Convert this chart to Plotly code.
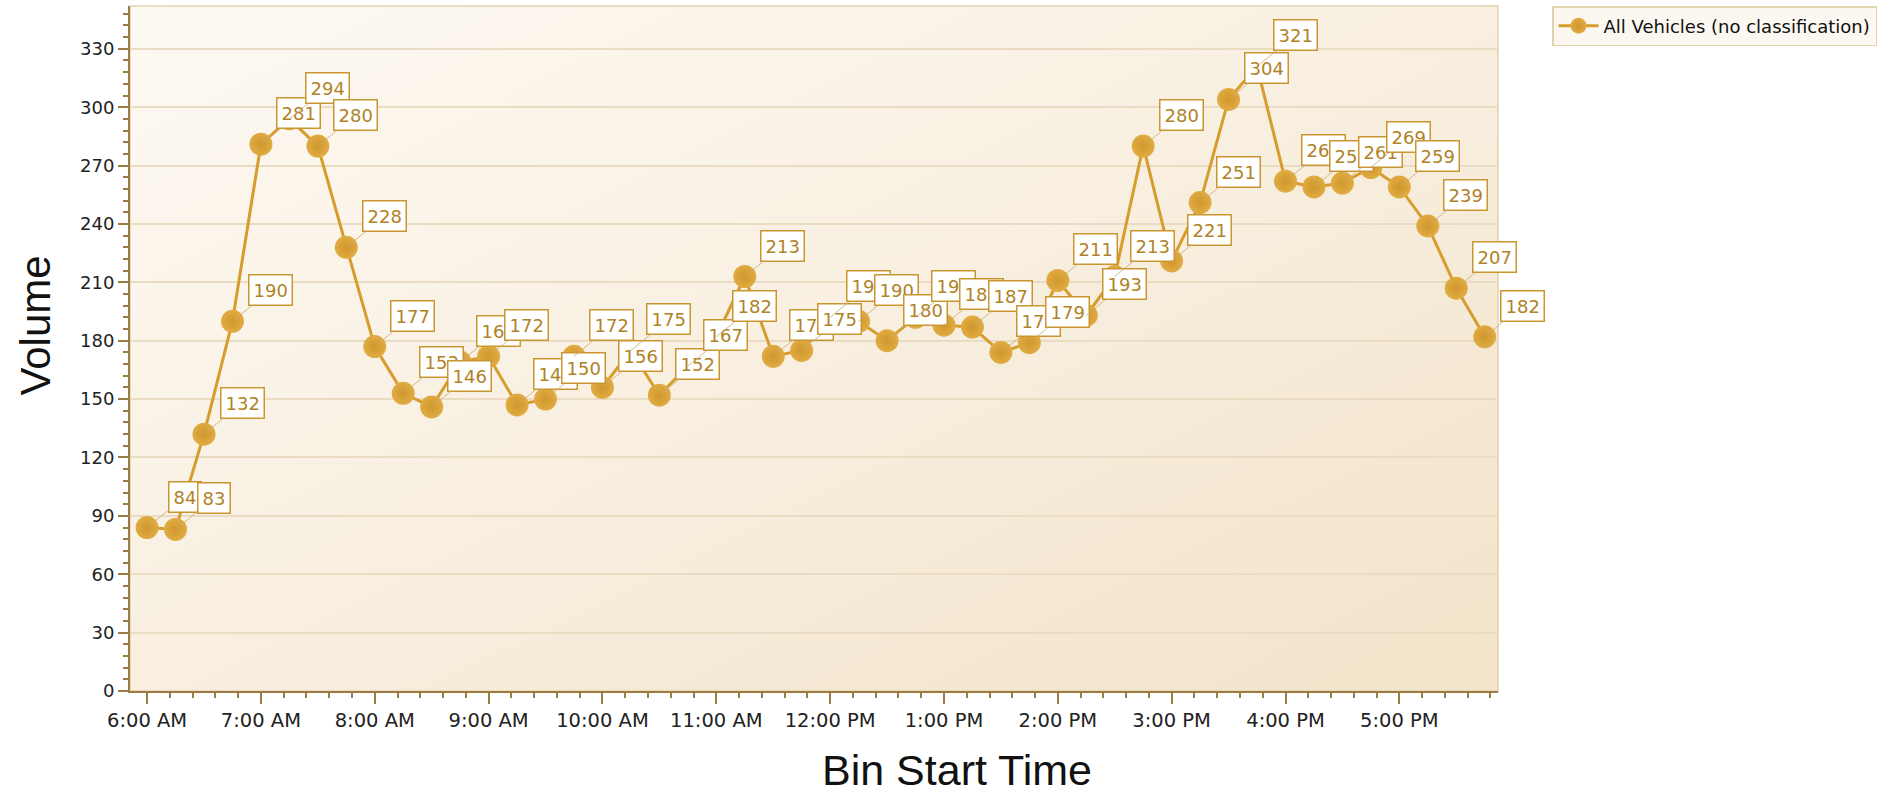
import base64
import pandas as pd
import plotly.graph_objects as go

# ---- data ----
start_time = "2000-01-01 06:00"
n_bins = 48
times = pd.date_range(start_time, periods=n_bins, freq="15min")
volume = [84, 83, 132, 190, 281, 294, 280, 228, 177, 153, 146, 169,
          172, 147, 150, 172, 156, 175, 152, 167, 182, 213, 172, 175,
          192, 190, 180, 192, 188, 187, 174, 179, 211, 193, 213, 280,
          221, 251, 304, 321, 262, 259, 261, 269, 259, 239, 207, 182]
series_name = "All Vehicles (no classification)"
y_title = "Volume"
x_title = "Bin Start Time"

# ---- styles ----
line_color = "#D69C2C"
label_text = "#B08226"
label_border = "#C99630"
axis_color = "#9C7B44"
grid_color = "#E9DCC2"

svg = ('<svg xmlns="http://www.w3.org/2000/svg" width="200" height="100" preserveAspectRatio="none">'
       '<defs><linearGradient id="g" x1="0" y1="0" x2="1" y2="1">'
       '<stop offset="0" stop-color="#FDF9F3"/><stop offset="0.5" stop-color="#F8EFE0"/>'
       '<stop offset="1" stop-color="#F2E3C9"/></linearGradient></defs>'
       '<rect width="200" height="100" fill="url(#g)"/></svg>')
bg_src = "data:image/svg+xml;base64," + base64.b64encode(svg.encode()).decode()

fig = go.Figure()
fig.add_trace(go.Scatter(
    x=times, y=volume, mode="lines+markers", name=series_name,
    line=dict(color=line_color, width=3),
    marker=dict(size=23, color="#E0AC44", line=dict(width=0),
                gradient=dict(type="radial", color="#D0962A")),
))

annotations = []
for t, v in zip(times, volume):
    annotations.append(dict(
        x=t, y=v, xref="x", yref="y", text=str(v), showarrow=True,
        arrowhead=0, arrowwidth=0.8, arrowcolor="#C9A868", standoff=0,
        ax=38, ay=-31, bgcolor="white", bordercolor=label_border,
        borderwidth=1.5, borderpad=4,
        font=dict(family="DejaVu Sans", size=18, color=label_text)))

annotations.append(dict(text=y_title, xref="paper", yref="paper", x=-0.069, y=0.533,
                        textangle=-90, showarrow=False, xanchor="center", yanchor="middle",
                        font=dict(family="Liberation Sans", size=42, color="#111111")))
annotations.append(dict(text=x_title, xref="paper", yref="paper", x=0.6044, y=-0.116,
                        showarrow=False, xanchor="center", yanchor="middle",
                        font=dict(family="Liberation Sans", size=43, color="#111111")))

fig.update_layout(
    width=1895, height=793,
    margin=dict(l=130, r=397, t=6, b=102),
    paper_bgcolor="white", plot_bgcolor="rgba(0,0,0,0)",
    images=[dict(source=bg_src, xref="paper", yref="paper", x=0, y=1, sizex=1, sizey=1,
                 xanchor="left", yanchor="top", sizing="stretch", layer="below")],
    shapes=[dict(type="rect", xref="paper", yref="paper", x0=0, y0=0, x1=1, y1=1,
                 line=dict(color="#E2D2AE", width=1.5), layer="below")],
    annotations=annotations,
    showlegend=True,
    legend=dict(x=1.0395, y=1.0, xanchor="left", yanchor="top",
                bgcolor="#FCF8F1", bordercolor="#E2D2AE", borderwidth=1.5,
                font=dict(family="DejaVu Sans", size=18, color="#111111"),
                itemwidth=40),
    xaxis=dict(
        type="date", range=["2000-01-01 05:51", "2000-01-01 17:52"],
        tick0="2000-01-01 06:00", dtick=3600000, tickformat="%-I:%M %p",
        showgrid=False, zeroline=False, showline=True, linecolor=axis_color, linewidth=2,
        ticks="outside", ticklen=11, tickwidth=1.5, tickcolor=axis_color,
        tickfont=dict(family="DejaVu Sans", size=19.5, color="#222222"),
        minor=dict(dtick=720000, tick0="2000-01-01 06:00", ticks="outside", ticklen=5,
                   tickwidth=1.5, tickcolor=axis_color, showgrid=False),
    ),
    yaxis=dict(
        range=[0, 352], tick0=0, dtick=30, showgrid=True, gridcolor=grid_color, gridwidth=1.5,
        zeroline=False, showline=True, linecolor=axis_color, linewidth=2,
        ticks="outside", ticklen=10, tickwidth=1.5, tickcolor=axis_color,
        tickfont=dict(family="DejaVu Sans", size=18, color="#222222"),
        minor=dict(dtick=6, ticks="outside", ticklen=5, tickwidth=1.5,
                   tickcolor=axis_color, showgrid=False),
    ),
)

fig.write_html("out.html", config={"displayModeBar": False},
               post_script="document.body.style.margin='0px';")
